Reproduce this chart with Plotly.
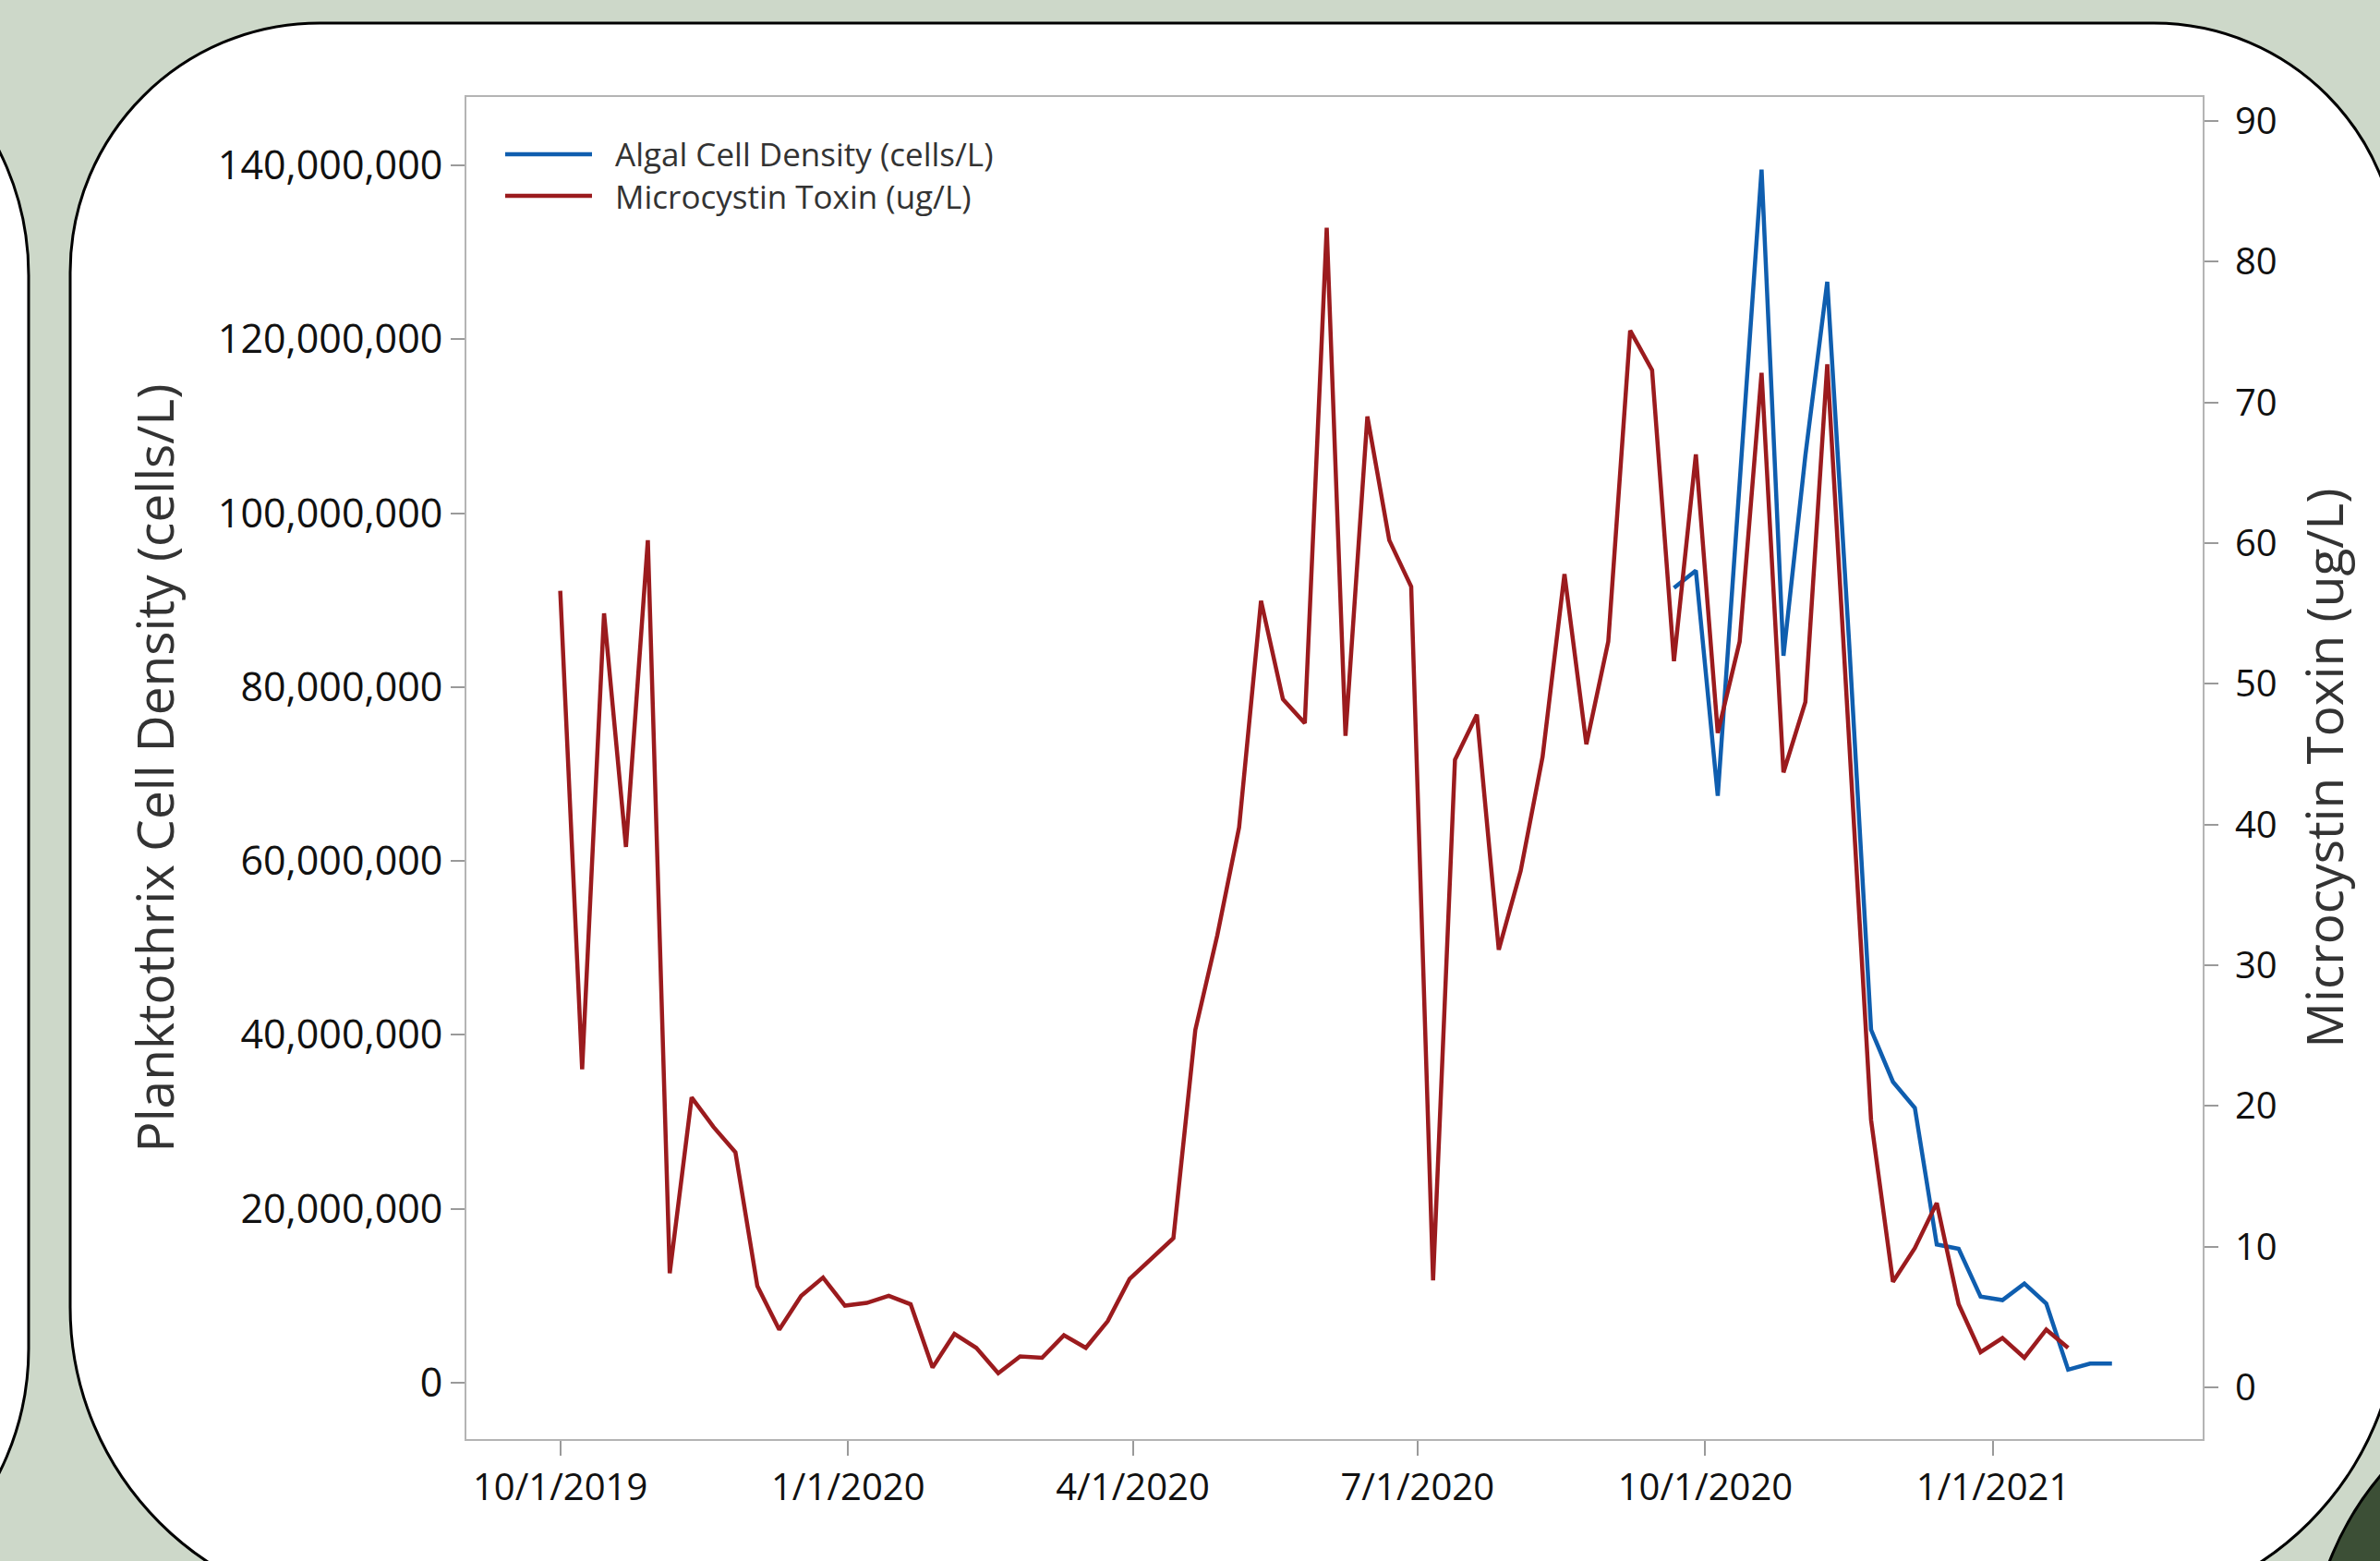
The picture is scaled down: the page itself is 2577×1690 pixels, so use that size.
import plotly.graph_objects as go

W, H = 2577, 1690
ML, MR, MT, MB = 505, 192, 105, 132
PW, PH = W - ML - MR, H - MT - MB

# ---------------- data ----------------
sample_dates = [
    "2019-10-01", "2019-10-08", "2019-10-15", "2019-10-22", "2019-10-29",
    "2019-11-05", "2019-11-12", "2019-11-19", "2019-11-26", "2019-12-03",
    "2019-12-10", "2019-12-17", "2019-12-24", "2019-12-31", "2020-01-07",
    "2020-01-14", "2020-01-21", "2020-01-28", "2020-02-04", "2020-02-11",
    "2020-02-18", "2020-02-25", "2020-03-03", "2020-03-10", "2020-03-17",
    "2020-03-24", "2020-03-31", "2020-04-07", "2020-04-14", "2020-04-21",
    "2020-04-28", "2020-05-05", "2020-05-12", "2020-05-19", "2020-05-26",
    "2020-06-02", "2020-06-08", "2020-06-15", "2020-06-22", "2020-06-29",
    "2020-07-06", "2020-07-13", "2020-07-20", "2020-07-27", "2020-08-03",
    "2020-08-10", "2020-08-17", "2020-08-24", "2020-08-31", "2020-09-07",
    "2020-09-14", "2020-09-21", "2020-09-28", "2020-10-05", "2020-10-12",
    "2020-10-19", "2020-10-26", "2020-11-02", "2020-11-09", "2020-11-16",
    "2020-11-23", "2020-11-30", "2020-12-07", "2020-12-14", "2020-12-21",
    "2020-12-28", "2021-01-04", "2021-01-11", "2021-01-18", "2021-01-25",
    "2021-02-01", "2021-02-08",
]

toxin_ug_per_L = [
    56.6, 22.6, 55.0, 38.4, 60.2, 8.1, 20.6, 18.5, 16.7, 7.2,
    4.1, 6.5, 7.8, 5.8, 6.0, 6.5, 5.9, 1.4, 3.8, 2.8,
    1.0, 2.2, 2.1, 3.7, 2.8, 4.7, 7.7, 9.2, 10.6, 25.4,
    32.1, 39.8, 55.9, 48.9, 47.2, 82.4, 46.3, 69.0, 60.2, 56.9,
    7.6, 44.6, 47.8, 31.1, 36.7, 44.8, 57.8, 45.7, 53.0, 75.1,
    72.3, 51.6, 66.3, 46.5, 53.0, 72.1, 43.7, 48.7, 72.7, 45.9,
    19.0, 7.5, 9.9, 13.1, 5.9, 2.5, 3.5, 2.1, 4.1, 2.8,
]
toxin_dates = sample_dates[:len(toxin_ug_per_L)]

algal_cells_per_L = [
    91.4e6, 93.4e6, 67.5e6, 103.0e6, 139.5e6, 83.6e6, 106.6e6, 126.6e6,
    85.0e6, 40.6e6, 34.6e6, 31.6e6, 15.9e6, 15.4e6, 9.9e6, 9.5e6,
    11.4e6, 9.1e6, 1.5e6, 2.2e6, 2.2e6,
]
algal_dates = sample_dates[51:51 + len(algal_cells_per_L)]

series_names = ["Algal Cell Density (cells/L)", "Microcystin Toxin (ug/L)"]

x_tick_dates = ["2019-10-01", "2020-01-01", "2020-04-01", "2020-07-01", "2020-10-01", "2021-01-01"]
x_tick_text = ["10/1/2019", "1/1/2020", "4/1/2020", "7/1/2020", "10/1/2020", "1/1/2021"]
left_ticks = [0, 20e6, 40e6, 60e6, 80e6, 100e6, 120e6, 140e6]
right_ticks = [0, 10, 20, 30, 40, 50, 60, 70, 80, 90]

BLUE = "#0f5eaf"
RED = "#9b1b1e"
FONT = "Open Sans"

# ---------------- helpers for decoration (pixel -> paper) ----------------
def px(x):
    return (x - ML) / PW

def py(y):
    return 1 - (y - MT) / PH

def pt(x, y):
    return f"{px(x):.5f},{py(y):.5f}"

def rrect(x0, y0, x1, y1, rtl, rtr, rbr, rbl):
    k = 0.5523
    d = f"M {pt(x0 + rtl, y0)} L {pt(x1 - rtr, y0)} "
    d += f"C {pt(x1 - rtr + k * rtr, y0)} {pt(x1, y0 + rtr - k * rtr)} {pt(x1, y0 + rtr)} "
    d += f"L {pt(x1, y1 - rbr)} "
    d += f"C {pt(x1, y1 - rbr + k * rbr)} {pt(x1 - rbr + k * rbr, y1)} {pt(x1 - rbr, y1)} "
    d += f"L {pt(x0 + rbl, y1)} "
    d += f"C {pt(x0 + rbl - k * rbl, y1)} {pt(x0, y1 - rbl + k * rbl)} {pt(x0, y1 - rbl)} "
    d += f"L {pt(x0, y0 + rtl)} "
    d += f"C {pt(x0, y0 + rtl - k * rtl)} {pt(x0 + rtl - k * rtl, y0)} {pt(x0 + rtl, y0)} Z"
    return d

fig = go.Figure()

fig.add_trace(go.Scatter(
    x=algal_dates, y=algal_cells_per_L, mode="lines",
    name=series_names[0],
    line=dict(color=BLUE, width=4.5), yaxis="y", showlegend=False,
))
fig.add_trace(go.Scatter(
    x=toxin_dates, y=toxin_ug_per_L, mode="lines",
    name=series_names[1],
    line=dict(color=RED, width=4.5), yaxis="y2", showlegend=False,
))

LEG_Y1, LEG_Y2 = 167, 212

shapes = [
    # dark neighbouring panel at bottom right
    dict(type="path", xref="paper", yref="paper", layer="below",
         path=rrect(2500, 1480, 3100, 2200, 330, 10, 10, 10),
         fillcolor="#3c4f36", line=dict(color="black", width=3)),
    # left neighbouring panel
    dict(type="path", xref="paper", yref="paper", layer="below",
         path=rrect(-800, -2, 31, 1760, 300, 300, 300, 300),
         fillcolor="white", line=dict(color="black", width=3)),
    # main rounded panel
    dict(type="path", xref="paper", yref="paper", layer="below",
         path=rrect(76, 25, 2597, 1745, 270, 265, 330, 330),
         fillcolor="white", line=dict(color="black", width=3)),
    # legend lines
    dict(type="line", xref="paper", yref="paper", x0=px(547), x1=px(641),
         y0=py(LEG_Y1), y1=py(LEG_Y1), line=dict(color=BLUE, width=4.5)),
    dict(type="line", xref="paper", yref="paper", x0=px(547), x1=px(641),
         y0=py(LEG_Y2), y1=py(LEG_Y2), line=dict(color=RED, width=4.5)),
]

annotations = [
    dict(xref="paper", yref="paper", x=px(664), y=py((LEG_Y1 + LEG_Y2) / 2),
         text="<br>".join(series_names),
         showarrow=False, xanchor="left", yanchor="middle", align="left",
         font=dict(family=FONT, size=35, color="#333333")),
]

AX_LINE = "#b4b4b4"
TICK_C = "#9a9a9a"

fig.update_layout(
    width=W, height=H,
    margin=dict(l=ML, r=MR, t=MT, b=MB, pad=0),
    paper_bgcolor="#cdd8c9",
    plot_bgcolor="white",
    showlegend=False,
    shapes=shapes,
    annotations=annotations,
    font=dict(family=FONT, color="#111111"),
    xaxis=dict(
        type="date",
        range=["2019-09-01", "2021-03-09"],
        tickvals=x_tick_dates, ticktext=x_tick_text,
        ticks="outside", ticklen=16, tickwidth=1.5, tickcolor=TICK_C,
        ticklabelstandoff=0,
        showline=True, linecolor=AX_LINE, linewidth=2, mirror=True,
        showgrid=False, zeroline=False,
        tickfont=dict(family=FONT, size=40, color="#111111"),
    ),
    yaxis=dict(
        range=[-6.48e6, 147.85e6],
        tickvals=left_ticks, tickformat=",d",
        ticks="outside", ticklen=15, tickwidth=1.5, tickcolor=TICK_C,
        ticklabelstandoff=0,
        showline=True, linecolor=AX_LINE, linewidth=2,
        showgrid=False, zeroline=False,
        tickfont=dict(family=FONT, size=43, color="#111111"),
        title=dict(text="Planktothrix Cell Density (cells/L)", standoff=30,
                   font=dict(family=FONT, size=55, color="#333333")),
    ),
    yaxis2=dict(
        range=[-3.68, 91.7],
        overlaying="y", side="right",
        tickvals=right_ticks,
        ticks="outside", ticklen=15, tickwidth=1.5, tickcolor=TICK_C,
        ticklabelstandoff=10,
        showline=True, linecolor=AX_LINE, linewidth=2,
        showgrid=False, zeroline=False,
        tickfont=dict(family=FONT, size=40, color="#111111"),
        title=dict(text="Microcystin Toxin (ug/L)", standoff=34,
                   font=dict(family=FONT, size=55, color="#333333")),
    ),
)

fig.write_html("out.html",
               config={"displayModeBar": False},
               post_script="document.body.style.margin='0';document.body.style.overflow='hidden';")
